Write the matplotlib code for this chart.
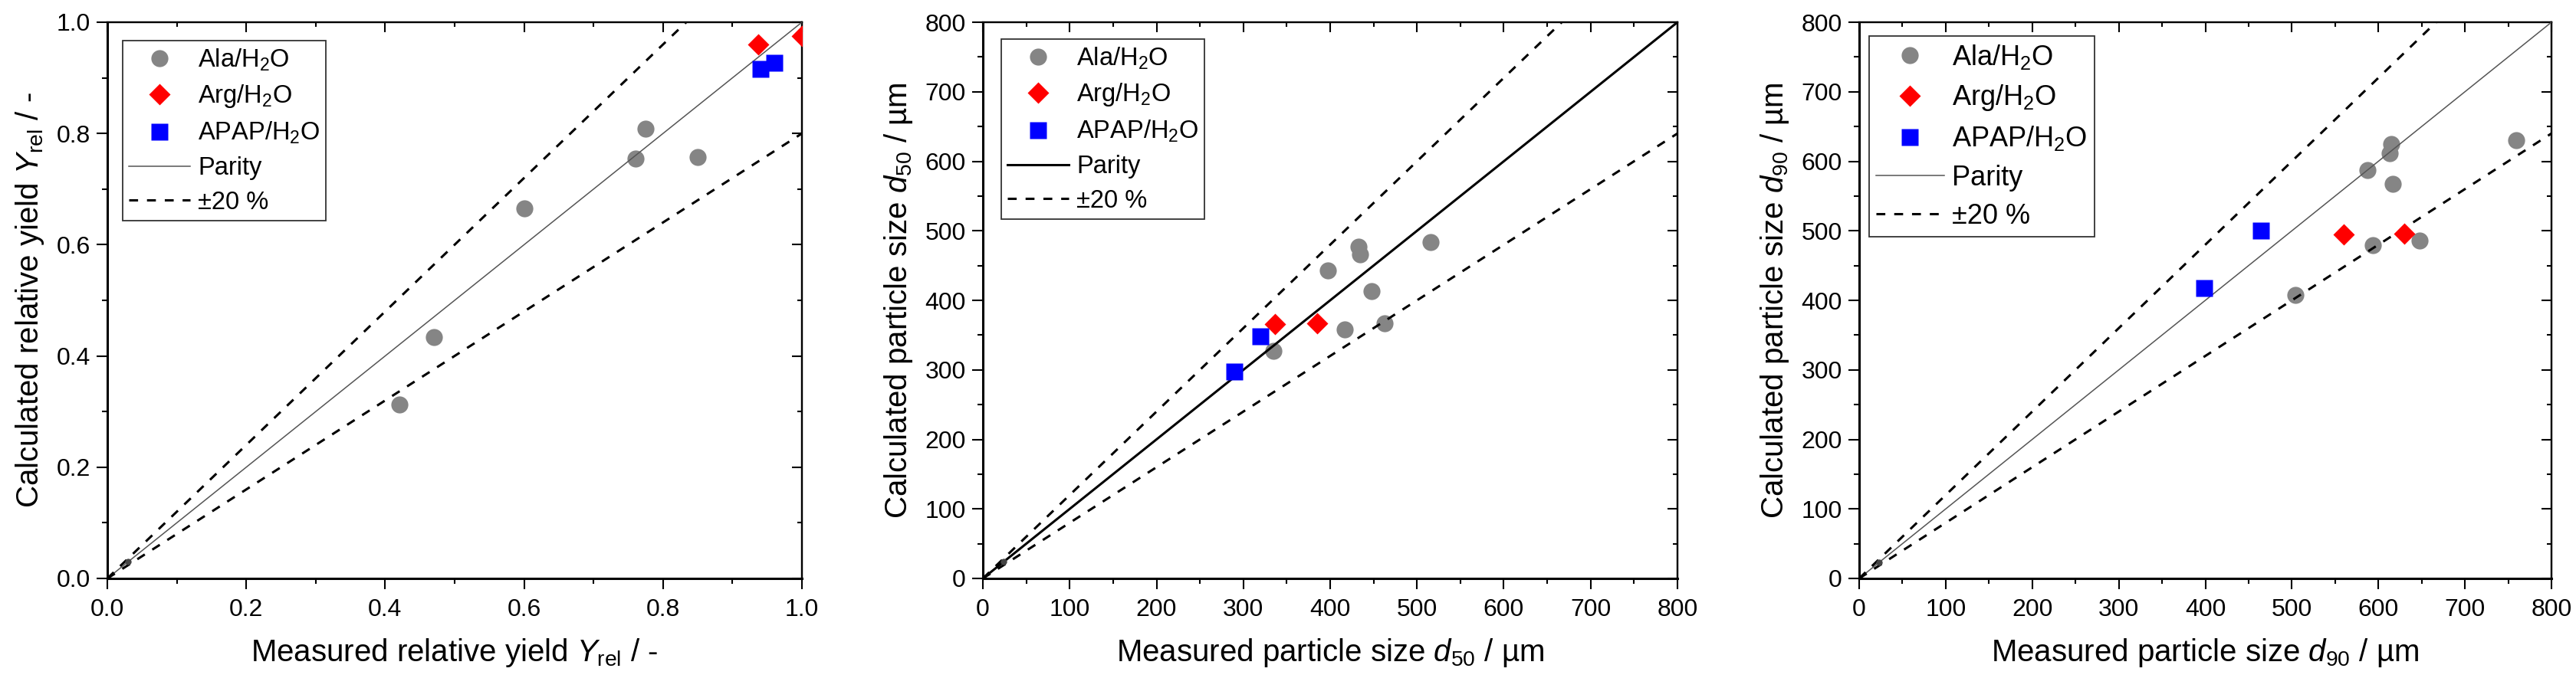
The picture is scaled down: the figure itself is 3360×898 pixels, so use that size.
import numpy as np
import matplotlib
matplotlib.use('Agg')
import matplotlib.pyplot as plt
from matplotlib.ticker import MultipleLocator, FormatStrFormatter

plt.rcParams['font.family'] = ['Liberation Sans', 'DejaVu Sans']
plt.rcParams['mathtext.fontset'] = 'custom'
plt.rcParams['mathtext.rm'] = 'Liberation Sans'
plt.rcParams['mathtext.it'] = 'Liberation Sans:italic'
plt.rcParams['mathtext.bf'] = 'Liberation Sans:bold'

# relative yield (panel 1)
yield_ala_meas = [0.42, 0.47, 0.60, 0.76, 0.775, 0.85]
yield_ala_calc = [0.313, 0.434, 0.665, 0.755, 0.808, 0.758]
yield_arg_meas = [0.937, 1.0]
yield_arg_calc = [0.960, 0.975]
yield_apap_meas = [0.940, 0.960]
yield_apap_calc = [0.916, 0.927]
yield_origin = [0.03]

# d50 (panel 2)
d50_ala_meas = [335, 397, 433, 434, 448, 417, 463, 516]
d50_ala_calc = [327, 443, 477, 466, 413, 358, 367, 484]
d50_arg_meas = [336, 385]
d50_arg_calc = [366, 367]
d50_apap_meas = [290, 320]
d50_apap_calc = [297, 348]
d50_origin = [24]

# d90 (panel 3)
d90_ala_meas = [504, 594, 648, 587, 613, 615, 617, 759]
d90_ala_calc = [408, 479, 486, 587, 612, 625, 568, 630]
d90_arg_meas = [560, 630]
d90_arg_calc = [495, 496]
d90_apap_meas = [399, 464]
d90_apap_calc = [418, 500]
d90_origin = [23]

labels = ['Ala/H$_2$O', 'Arg/H$_2$O', 'APAP/H$_2$O', 'Parity', '\u00b120 %']

gray = '#858585'
W, H = 3360, 898
fig = plt.figure(figsize=(W / 100, H / 100), dpi=100)

def make_axes(left_px, width_px):
    return fig.add_axes([left_px / W, 143 / H, width_px / W, 726 / H])

def style_axes(ax, vmax, major, minor, fmt):
    ax.set_xlim(0, vmax)
    ax.set_ylim(0, vmax)
    for a in (ax.xaxis, ax.yaxis):
        a.set_major_locator(MultipleLocator(major))
        a.set_minor_locator(MultipleLocator(minor))
        a.set_major_formatter(FormatStrFormatter(fmt))
    ax.tick_params(which='both', direction='out', width=1.5, labelsize=23,
                   top=False, right=False)
    ax.tick_params(which='major', length=10)
    ax.tick_params(which='minor', length=5)
    ax.tick_params(axis='x', pad=9)
    ax.tick_params(axis='y', pad=6)
    for s in ['left', 'bottom']:
        ax.spines[s].set_linewidth(2.2)
    for s in ['top', 'right']:
        ax.spines[s].set_linewidth(1.6)
    # inward ticks on top and right like Origin
    top = ax.secondary_xaxis('top')
    top.xaxis.set_major_locator(MultipleLocator(major))
    top.xaxis.set_minor_locator(MultipleLocator(minor))
    top.tick_params(which='both', direction='in', width=1.5, labeltop=False)
    top.tick_params(which='major', length=9.5)
    top.tick_params(which='minor', length=4.5)
    top.spines['top'].set_linewidth(1.6)
    right = ax.secondary_yaxis('right')
    right.yaxis.set_major_locator(MultipleLocator(major))
    right.yaxis.set_minor_locator(MultipleLocator(minor))
    right.tick_params(which='both', direction='in', width=1.5, labelright=False)
    right.tick_params(which='major', length=9.5)
    right.tick_params(which='minor', length=4.5)
    right.spines['right'].set_linewidth(1.6)

def draw_panel(ax, vmax, ala, arg, apap, origin, parity_color, parity_lw, ms):
    x = np.array([0, vmax])
    ax.plot(ala[0], ala[1], 'o', color=gray, ms=ms, mec='none', zorder=2, label=labels[0])
    ax.plot(arg[0], arg[1], 'D', color='red', ms=ms * 0.86, mec='none', zorder=4, label=labels[1])
    ax.plot(apap[0], apap[1], 's', color='blue', ms=ms * 0.95, mec='none', zorder=4, label=labels[2])
    ax.plot(x, x, '-', color=parity_color, lw=parity_lw, zorder=3, label=labels[3])
    ax.plot(x, 1.2 * x, color='black', lw=2.2, ls=(0, (3.8, 3.8)), zorder=3, label=labels[4])
    ax.plot(x, 0.8 * x, color='black', lw=2.2, ls=(0, (3.8, 3.8)), zorder=3)
    ax.plot(origin, origin, 'o', color='#444444', ms=6, mec='none', zorder=3)

def add_legend(ax, dx_px, dy_px, w_px, fs):
    leg = ax.legend(loc='upper left', bbox_to_anchor=(dx_px / w_px, 1 - dy_px / 726),
                    borderaxespad=0, fontsize=fs, numpoints=1, handlelength=2.45,
                    handletextpad=0.3, borderpad=0.25, labelspacing=0.42,
                    fancybox=False, framealpha=1, edgecolor='#333333')
    leg.get_frame().set_linewidth(1.3)

# panel 1: relative yield
ax1 = make_axes(140, 906)
draw_panel(ax1, 1.0, (yield_ala_meas, yield_ala_calc), (yield_arg_meas, yield_arg_calc),
           (yield_apap_meas, yield_apap_calc), yield_origin, '#555555', 1.1, 16)
style_axes(ax1, 1.0, 0.2, 0.1, '%.1f')
ax1.set_xlabel('Measured relative yield $\\mathit{Y}_{\\mathrm{rel}}$ / -', fontsize=29, labelpad=14)
ax1.set_ylabel('Calculated relative yield $\\mathit{Y}_{\\mathrm{rel}}$ / -', fontsize=29, labelpad=10)
add_legend(ax1, 20, 24, 906, 23.5)

# panel 2: d50
ax2 = make_axes(1282, 906)
draw_panel(ax2, 800, (d50_ala_meas, d50_ala_calc), (d50_arg_meas, d50_arg_calc),
           (d50_apap_meas, d50_apap_calc), d50_origin, 'black', 2.2, 16)
style_axes(ax2, 800, 100, 50, '%d')
ax2.set_xlabel('Measured particle size $\\mathit{d}_{50}$ / \u00b5m', fontsize=29, labelpad=14)
ax2.set_ylabel('Calculated particle size $\\mathit{d}_{50}$ / \u00b5m', fontsize=29, labelpad=10)
add_legend(ax2, 24, 22, 906, 23.5)

# panel 3: d90
ax3 = make_axes(2425, 903)
draw_panel(ax3, 800, (d90_ala_meas, d90_ala_calc), (d90_arg_meas, d90_arg_calc),
           (d90_apap_meas, d90_apap_calc), d90_origin, '#555555', 1.1, 16)
style_axes(ax3, 800, 100, 50, '%d')
ax3.set_xlabel('Measured particle size $\\mathit{d}_{90}$ / \u00b5m', fontsize=29, labelpad=14)
ax3.set_ylabel('Calculated particle size $\\mathit{d}_{90}$ / \u00b5m', fontsize=29, labelpad=10)
add_legend(ax3, 13, 18, 903, 26)

fig.savefig('out.png', dpi=100)
